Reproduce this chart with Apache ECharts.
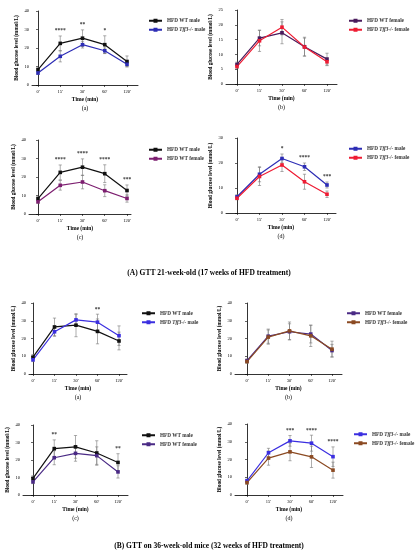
<!DOCTYPE html>
<html>
<head>
<meta charset="utf-8">
<script src="https://cdn.jsdelivr.net/npm/echarts@6/dist/echarts.min.js"></script>
<style>
  html, body { margin: 0; padding: 0; background: #fff; }
  #chart { width: 418px; height: 550px; }
</style>
</head>
<body>
<div id="chart"></div>
<script>
// tick labels of the time axis
var timeLabels = ["0'", "15'", "30'", "60'", "120'"];

// (A) 21-week-old, 17 weeks HFD
var aWtMale = [8.3, 22.5, 25.3, 21.8, 12.7];
var aWtMaleSd = [1.0, 4.0, 4.5, 4.8, 3.0];
var aTffMale = [6.5, 15.5, 21.8, 18.5, 11.2];
var aTffMaleSd = [0.8, 3.0, 1.8, 1.5, 1.2];
var aWtFemale = [6.6, 15.5, 17.3, 12.6, 8.4];
var aWtFemaleSd = [0.8, 2.6, 3.7, 3.2, 2.0];
var aTffFemale = [5.9, 14.6, 19.2, 12.5, 7.5];
var aTffFemaleSd = [0.6, 3.6, 2.6, 3.0, 1.3];

// (B) 36-week-old, 32 weeks HFD
var bWtMale = [9.5, 26.5, 27.5, 24.0, 18.6];
var bWtMaleSd = [1.5, 5.0, 6.5, 7.0, 5.0];
var bTffMale = [8.0, 23.8, 30.5, 29.2, 21.6];
var bTffMaleSd = [1.0, 2.5, 3.0, 4.5, 5.5];
var bWtFemale = [7.5, 21.3, 23.8, 22.5, 13.2];
var bWtFemaleSd = [1.0, 4.0, 4.5, 5.0, 3.5];
var bTffFemale = [7.0, 20.8, 24.3, 21.5, 14.0];
var bTffFemaleSd = [1.0, 4.0, 5.0, 6.0, 4.5];

// significance marks per time point
var starsAa = ['', '****', '**', '*', ''];
var starsAb = ['', '', '', '', ''];
var starsAc = ['', '****', '****', '****', '***'];
var starsAd = ['', '', '*', '****', '***'];
var starsBa = ['', '', '', '**', ''];
var starsBb = ['', '', '', '', ''];
var starsBc = ['', '**', '', '', '**'];
var starsBd = ['', '', '***', '****', '****'];

var FONT = 'Liberation Serif';
var BLACK = '#111111', BLUE_A = '#2d2db5', PURPLE_A = '#4a1b5c', MAGENTA_A = '#7d1f70', RED_A = '#ee1c33';
var BLUE_B = '#3b2fe0', PURPLE_B = '#4a2a85', BROWN_B = '#8b4a22';

// layout of each panel (pixels): y axis x, first/last category x, right end, top, bottom
var panels = [
  { tag: '(a)', ax: 32, c0: 38, c4: 127, right: 138, top: 11, bottom: 85, yMax: 40, yInt: 10, legX: 143, legY: 12.5, stars: starsAa,
    s: [['HFD WT male', aWtMale, aWtMaleSd, BLACK], ['HFD Tff3-/- male', aTffMale, aTffMaleSd, BLUE_A]] },
  { tag: '(b)', ax: 226, c0: 237, c4: 327, right: 337, top: 10, bottom: 84, yMax: 25, yInt: 5, legX: 343, legY: 12.5, stars: starsAb,
    s: [['HFD WT female', aWtFemale, aWtFemaleSd, PURPLE_A], ['HFD Tff3-/- female', aTffFemale, aTffFemaleSd, RED_A]] },
  { tag: '(c)', ax: 29, c0: 38, c4: 127, right: 131, top: 140, bottom: 214, yMax: 40, yInt: 10, legX: 143, legY: 141.5, stars: starsAc,
    s: [['HFD WT male', aWtMale, aWtMaleSd, BLACK], ['HFD WT female', aWtFemale, aWtFemaleSd, MAGENTA_A]] },
  { tag: '(d)', ax: 226, c0: 237, c4: 327, right: 336, top: 138, bottom: 213, yMax: 30, yInt: 10, legX: 343, legY: 140.5, stars: starsAd,
    s: [['HFD Tff3-/- male', aTffMale, aTffMaleSd, BLUE_A], ['HFD Tff3-/- female', aTffFemale, aTffFemaleSd, RED_A]] },
  { tag: '(a)', ax: 29, c0: 33, c4: 119, right: 127, top: 303, bottom: 374, yMax: 40, yInt: 10, legX: 136, legY: 305, stars: starsBa,
    s: [['HFD WT male', bWtMale, bWtMaleSd, BLACK], ['HFD Tff3-/- male', bTffMale, bTffMaleSd, BLUE_B]] },
  { tag: '(b)', ax: 235, c0: 247, c4: 332, right: 342, top: 303, bottom: 374, yMax: 40, yInt: 10, legX: 341, legY: 305, stars: starsBb,
    s: [['HFD WT female', bWtFemale, bWtFemaleSd, PURPLE_B], ['HFD Tff3-/- female', bTffFemale, bTffFemaleSd, BROWN_B]] },
  { tag: '(c)', ax: 23, c0: 33, c4: 118, right: 128, top: 425, bottom: 495, yMax: 40, yInt: 10, legX: 136, legY: 427, stars: starsBc,
    s: [['HFD WT male', bWtMale, bWtMaleSd, BLACK], ['HFD WT female', bWtFemale, bWtFemaleSd, PURPLE_B]] },
  { tag: '(d)', ax: 235, c0: 247, c4: 333, right: 343, top: 424, bottom: 495, yMax: 40, yInt: 10, legX: 348, legY: 426, stars: starsBd,
    s: [['HFD Tff3-/- male', bTffMale, bTffMaleSd, BLUE_B], ['HFD Tff3-/- female', bTffFemale, bTffFemaleSd, BROWN_B]] }
];

var grids = [], xAxes = [], yAxes = [], legends = [], series = [];
var ticks = [0, 1, 2, 3, 4];

function errorBars(params, api) {
  var x = api.value(0), m = api.value(1), sd = api.value(2);
  var hi = api.coord([x, m + sd]);
  var lo = api.coord([x, m - sd]);
  var st = { stroke: '#777', lineWidth: 0.6 };
  return {
    type: 'group',
    children: [
      { type: 'line', shape: { x1: hi[0], y1: hi[1], x2: lo[0], y2: lo[1] }, style: st },
      { type: 'line', shape: { x1: hi[0] - 1.6, y1: hi[1], x2: hi[0] + 1.6, y2: hi[1] }, style: st },
      { type: 'line', shape: { x1: lo[0] - 1.6, y1: lo[1], x2: lo[0] + 1.6, y2: lo[1] }, style: st }
    ]
  };
}

function legendText(name) {
  var base = name.split('#')[0];
  return base.replace('Tff3-/-', '{i|Tff3-/-}');
}

panels.forEach(function (p, k) {
  var step = (p.c4 - p.c0) / 4;
  grids.push({ left: p.ax, top: p.top, width: p.right - p.ax, height: p.bottom - p.top, containLabel: false });

  xAxes.push({
    gridIndex: k, type: 'value',
    min: -(p.c0 - p.ax) / step, max: (p.right - p.c0) / step,
    splitLine: { show: false },
    axisLine: { show: true, onZero: false, lineStyle: { color: '#000', width: 0.8 } },
    axisTick: { show: true, customValues: ticks, length: 2, lineStyle: { color: '#000', width: 0.6 } },
    axisLabel: { customValues: ticks, formatter: function (v) { return timeLabels[v]; }, fontSize: 4.5, margin: 4, color: '#000', fontFamily: FONT },
    name: '{t|Time (min)}\n{p|' + p.tag + '}',
    nameLocation: 'middle', nameGap: 11,
    nameTextStyle: {
      rich: {
        t: { fontSize: 5.5, fontWeight: 'bold', fontFamily: FONT, color: '#000', lineHeight: 8 },
        p: { fontSize: 6, fontFamily: FONT, color: '#000', lineHeight: 9 }
      }
    }
  });

  yAxes.push({
    gridIndex: k, type: 'value', min: 0, max: p.yMax, interval: p.yInt,
    splitLine: { show: false },
    axisLine: { show: true, lineStyle: { color: '#000', width: 0.8 } },
    axisTick: { show: true, length: 2, lineStyle: { color: '#000', width: 0.6 } },
    axisLabel: { fontSize: 4.5, margin: 3, color: '#000', fontFamily: FONT },
    name: 'Blood glucose level (mmol/L)',
    nameLocation: 'middle', nameGap: 13,
    nameTextStyle: { fontSize: 5.3, fontWeight: 'bold', fontFamily: FONT, color: '#000' }
  });

  var names = [];
  p.s.forEach(function (s) {
    var nm = s[0] + '#' + k;
    names.push(nm);
    series.push({
      type: 'custom', xAxisIndex: k, yAxisIndex: k, renderItem: errorBars,
      encode: { x: 0, y: 1 }, z: 1, silent: true, animation: false,
      data: s[1].map(function (v, i) { return [i, v, s[2][i]]; })
    });
    series.push({
      type: 'line', name: nm, xAxisIndex: k, yAxisIndex: k,
      data: s[1].map(function (v, i) { return [i, v]; }),
      symbol: 'rect', symbolSize: 3.6, z: 3, animation: false,
      lineStyle: { width: 1.2, color: s[3] }, itemStyle: { color: s[3] }
    });
  });

  // significance marks above the highest error bar
  var starData = [];
  p.stars.forEach(function (st, i) {
    if (!st) return;
    var top = 0;
    p.s.forEach(function (s) { top = Math.max(top, s[1][i] + s[2][i]); });
    starData.push({ value: [i, top], star: st });
  });
  series.push({
    type: 'scatter', xAxisIndex: k, yAxisIndex: k, symbolSize: 0, z: 4, animation: false, silent: true,
    data: starData.map(function (d) { return { value: d.value, label: { formatter: d.star } }; }),
    label: { show: true, position: 'top', distance: 2, fontSize: 5.5, fontWeight: 'bold', color: '#000', fontFamily: FONT }
  });

  legends.push({
    left: p.legX, top: p.legY, orient: 'vertical',
    itemWidth: 13, itemHeight: 5, itemGap: 2.5,
    data: names, formatter: legendText, selectedMode: false,
    textStyle: {
      fontSize: 5.2, fontWeight: 'bold', fontFamily: FONT, color: '#333', lineHeight: 6.5,
      rich: { i: { fontSize: 5.2, fontWeight: 'bold', fontStyle: 'italic', fontFamily: FONT, color: '#333' } }
    }
  });
});

var chart = echarts.init(document.getElementById('chart'), null, { renderer: 'canvas' });
chart.setOption({
  backgroundColor: '#fff',
  animation: false,
  title: [
    { text: '(A) GTT 21-week-old (17 weeks of HFD treatment)', left: 'center', top: 264,
      textStyle: { fontSize: 7.5, fontWeight: 'bold', fontFamily: FONT, color: '#000' } },
    { text: '(B) GTT on 36-week-old mice (32 weeks of HFD treatment)', left: 'center', top: 537,
      textStyle: { fontSize: 7.5, fontWeight: 'bold', fontFamily: FONT, color: '#000' } }
  ],
  grid: grids,
  xAxis: xAxes,
  yAxis: yAxes,
  legend: legends,
  series: series
});
</script>
</body>
</html>
